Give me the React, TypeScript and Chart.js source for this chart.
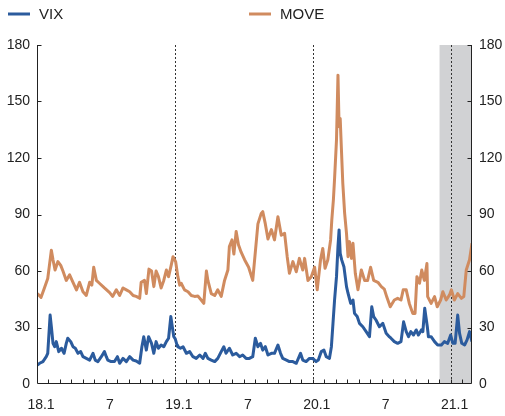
import React, { useEffect, useRef } from "react";
import { Chart, registerables } from "chart.js";

Chart.register(...registerables);

// ---- Data ----
const vixPoints: [string, number][] = [
  ["2018-01-02", 10], ["2018-01-08", 11], ["2018-01-17", 11.9], ["2018-01-26", 14.5], ["2018-01-30", 16.3],
  ["2018-02-05", 36.6], ["2018-02-08", 30.4], ["2018-02-12", 21.6], ["2018-02-16", 19.8], ["2018-02-20", 22.5],
  ["2018-02-26", 17.2], ["2018-03-05", 19], ["2018-03-12", 16.3], ["2018-03-18", 21.6], ["2018-03-22", 24.3],
  ["2018-03-30", 22.5], ["2018-04-05", 19.8], ["2018-04-11", 19], ["2018-04-18", 16.3], ["2018-04-25", 17.2],
  ["2018-05-01", 14.5], ["2018-05-10", 13.6], ["2018-05-19", 12.7], ["2018-05-28", 16.3], ["2018-06-03", 12.7],
  ["2018-06-10", 11.9], ["2018-06-19", 14.5], ["2018-06-27", 17.2], ["2018-07-02", 14.5], ["2018-07-06", 12.7],
  ["2018-07-15", 11.9], ["2018-07-24", 11.9], ["2018-08-01", 14.5], ["2018-08-07", 11], ["2018-08-16", 13.6],
  ["2018-08-25", 11.9], ["2018-09-03", 14.5], ["2018-09-12", 12.7], ["2018-09-20", 12.2], ["2018-09-29", 11],
  ["2018-10-05", 19.8], ["2018-10-10", 25.1], ["2018-10-17", 18], ["2018-10-23", 25.1], ["2018-10-31", 21.6],
  ["2018-11-06", 16.3], ["2018-11-12", 22.5], ["2018-11-18", 19], ["2018-11-25", 20.7], ["2018-12-02", 19.8],
  ["2018-12-09", 22.5], ["2018-12-15", 24.3], ["2018-12-21", 35.8], ["2018-12-25", 30.4], ["2018-12-29", 25.1],
  ["2019-01-02", 24], ["2019-01-07", 20.5], ["2019-01-09", 19.8], ["2019-01-16", 19], ["2019-01-23", 19.8],
  ["2019-02-01", 16.3], ["2019-02-09", 17.2], ["2019-02-17", 14.5], ["2019-02-25", 13.6], ["2019-03-06", 15.4],
  ["2019-03-15", 13.6], ["2019-03-21", 16.3], ["2019-03-28", 13.6], ["2019-04-06", 12.7], ["2019-04-15", 11.9],
  ["2019-04-23", 13.6], ["2019-05-02", 17.2], ["2019-05-09", 19.8], ["2019-05-15", 16.3], ["2019-05-24", 19],
  ["2019-06-02", 15.4], ["2019-06-11", 16.3], ["2019-06-20", 14.5], ["2019-06-28", 15.4], ["2019-07-07", 13.6],
  ["2019-07-16", 13.6], ["2019-07-25", 14.5], ["2019-08-01", 24.3], ["2019-08-08", 19.8], ["2019-08-15", 21.6],
  ["2019-08-21", 18], ["2019-08-28", 19.8], ["2019-09-04", 15.4], ["2019-09-13", 16.3], ["2019-09-21", 16.3],
  ["2019-09-30", 20.7], ["2019-10-07", 16.3], ["2019-10-13", 13.6], ["2019-10-23", 12.7], ["2019-10-31", 11.9],
  ["2019-11-09", 11.9], ["2019-11-18", 11], ["2019-11-29", 16.3], ["2019-12-05", 12.7], ["2019-12-14", 11.9],
  ["2019-12-23", 13.6], ["2020-01-01", 13.6], ["2020-01-10", 11.9], ["2020-01-16", 12.7], ["2020-01-24", 17.2],
  ["2020-01-31", 18], ["2020-02-06", 14.5], ["2020-02-14", 13.6], ["2020-02-19", 19.8], ["2020-02-23", 32.2],
  ["2020-02-27", 44.6], ["2020-03-03", 57], ["2020-03-07", 73], ["2020-03-10", 81.8], ["2020-03-13", 69.4],
  ["2020-03-17", 65.9], ["2020-03-23", 62.3], ["2020-03-30", 51.7], ["2020-04-03", 48.2], ["2020-04-10", 42.8],
  ["2020-04-16", 44.6], ["2020-04-20", 37.5], ["2020-04-27", 35.8], ["2020-05-03", 32.2], ["2020-05-12", 30.4],
  ["2020-05-21", 27.8], ["2020-05-30", 25.1], ["2020-06-05", 41], ["2020-06-10", 35.8], ["2020-06-16", 34],
  ["2020-06-25", 30.4], ["2020-07-04", 32.2], ["2020-07-13", 26.9], ["2020-07-22", 25], ["2020-07-26", 24.3],
  ["2020-08-04", 22.5], ["2020-08-13", 21.6], ["2020-08-22", 22.5], ["2020-08-29", 33], ["2020-09-05", 27.8],
  ["2020-09-11", 25.1], ["2020-09-17", 27.8], ["2020-09-24", 26], ["2020-10-01", 28.7], ["2020-10-07", 26],
  ["2020-10-15", 28.7], ["2020-10-19", 27.8], ["2020-10-24", 40.2], ["2020-10-31", 30.4], ["2020-11-03", 25.1],
  ["2020-11-10", 25.1], ["2020-11-19", 22.5], ["2020-11-27", 20.7], ["2020-12-07", 20.7], ["2020-12-15", 22.5],
  ["2020-12-24", 21.6], ["2021-01-01", 26], ["2021-01-07", 21.6], ["2021-01-13", 21.6], ["2021-01-20", 36.6],
  ["2021-01-25", 26.9], ["2021-01-31", 21.6], ["2021-02-07", 20.7], ["2021-02-13", 23.4], ["2021-02-19", 27.8],
  ["2021-02-25", 22.5],
];

const movePoints: [string, number][] = [
  ["2018-01-02", 48], ["2018-01-12", 46], ["2018-01-21", 51], ["2018-01-30", 56], ["2018-02-08", 71],
  ["2018-02-12", 66], ["2018-02-17", 60.5], ["2018-02-24", 65], ["2018-03-03", 63], ["2018-03-09", 60],
  ["2018-03-18", 55], ["2018-03-27", 58], ["2018-04-05", 54], ["2018-04-14", 50], ["2018-04-22", 54],
  ["2018-05-01", 49], ["2018-05-10", 47], ["2018-05-19", 54], ["2018-05-25", 52.5], ["2018-05-30", 62],
  ["2018-06-06", 55], ["2018-06-14", 53.5], ["2018-06-27", 51], ["2018-07-11", 48.5], ["2018-07-19", 46.5],
  ["2018-07-29", 50], ["2018-08-07", 47], ["2018-08-16", 51], ["2018-08-25", 50], ["2018-09-03", 49],
  ["2018-09-12", 47], ["2018-09-20", 46.5], ["2018-09-29", 45.5], ["2018-10-03", 54], ["2018-10-12", 55],
  ["2018-10-17", 48], ["2018-10-24", 61], ["2018-10-31", 60], ["2018-11-06", 51.7], ["2018-11-12", 60],
  ["2018-11-18", 57], ["2018-11-25", 51], ["2018-12-02", 55], ["2018-12-09", 60.5], ["2018-12-15", 57],
  ["2018-12-22", 63], ["2018-12-27", 67.6], ["2019-01-03", 65], ["2019-01-09", 57], ["2019-01-14", 52.5],
  ["2019-01-18", 53.5], ["2019-01-27", 50], ["2019-02-05", 49], ["2019-02-13", 47], ["2019-02-21", 46.5],
  ["2019-03-01", 46.7], ["2019-03-10", 44.6], ["2019-03-17", 42.8], ["2019-03-24", 60], ["2019-03-28", 55],
  ["2019-04-06", 48], ["2019-04-15", 47], ["2019-04-23", 50], ["2019-05-02", 46.5], ["2019-05-11", 55],
  ["2019-05-20", 60.5], ["2019-05-24", 73], ["2019-05-31", 76.5], ["2019-06-05", 69], ["2019-06-11", 81],
  ["2019-06-17", 74], ["2019-06-24", 70], ["2019-07-03", 66], ["2019-07-14", 62], ["2019-07-25", 55],
  ["2019-08-01", 70], ["2019-08-08", 85], ["2019-08-17", 90.6], ["2019-08-21", 91.5], ["2019-08-28", 85],
  ["2019-09-04", 77], ["2019-09-13", 82], ["2019-09-21", 76.5], ["2019-09-30", 88.8], ["2019-10-09", 79],
  ["2019-10-18", 80], ["2019-10-25", 67.6], ["2019-10-31", 58.8], ["2019-11-09", 65], ["2019-11-18", 59.6],
  ["2019-11-26", 66.7], ["2019-12-05", 60.5], ["2019-12-10", 66.7], ["2019-12-19", 55], ["2019-12-28", 57],
  ["2020-01-06", 62], ["2020-01-13", 50], ["2020-01-22", 66], ["2020-01-28", 72], ["2020-02-03", 61.4],
  ["2020-02-10", 66], ["2020-02-17", 76.5], ["2020-02-20", 87], ["2020-02-24", 97.7], ["2020-02-27", 109],
  ["2020-03-03", 129.6], ["2020-03-07", 164], ["2020-03-10", 136.6], ["2020-03-13", 141], ["2020-03-16", 126],
  ["2020-03-20", 106.6], ["2020-03-25", 90.6], ["2020-03-30", 80], ["2020-04-03", 67.6], ["2020-04-07", 75.6],
  ["2020-04-12", 66.7], ["2020-04-16", 74.7], ["2020-04-22", 58.8], ["2020-04-29", 50], ["2020-05-08", 60.5],
  ["2020-05-17", 55], ["2020-05-25", 55], ["2020-06-02", 62], ["2020-06-10", 55], ["2020-06-21", 54],
  ["2020-06-30", 51.7], ["2020-07-08", 50.4], ["2020-07-15", 46], ["2020-07-24", 41], ["2020-08-04", 44.6],
  ["2020-08-13", 45.5], ["2020-08-22", 44.6], ["2020-08-28", 50], ["2020-09-05", 50], ["2020-09-13", 42.8],
  ["2020-09-22", 37.5], ["2020-09-28", 37.5], ["2020-10-03", 57], ["2020-10-10", 53.5], ["2020-10-16", 60.5],
  ["2020-10-23", 55], ["2020-10-30", 64], ["2020-11-01", 46.4], ["2020-11-10", 42.8], ["2020-11-19", 46.4],
  ["2020-11-26", 41], ["2020-12-05", 44.6], ["2020-12-11", 49], ["2020-12-20", 44.6], ["2020-12-29", 47.3],
  ["2021-01-03", 50], ["2021-01-11", 44.6], ["2021-01-20", 48], ["2021-01-30", 45.5], ["2021-02-05", 46.4],
  ["2021-02-11", 60.5], ["2021-02-19", 66], ["2021-02-25", 74.7],
];

const xTickDates = ["2018-01-01", "2018-07-01", "2019-01-01", "2019-07-01", "2020-01-01", "2020-07-01", "2021-01-01"];
const xTickLabels = ["18.1", "7", "19.1", "7", "20.1", "7", "21.1"];
const yearMarkerDates = ["2019-01-01", "2020-01-01", "2021-01-01"];
const shadeStartDate = "2020-12-02";
const axisStartDate = "2018-01-01";
const axisEndDate = "2021-02-25";
const seriesNames = ["VIX", "MOVE"];
const seriesColors = ["#2b5b9d", "#d08b5f"];

// months since Jan 2018 (fractional)
function monthIndex(s: string): number {
  const [y, m, d] = s.split("-").map(Number);
  const dim = new Date(y, m, 0).getDate();
  return (y - 2018) * 12 + (m - 1) + (d - 1) / dim;
}

const FONT = "'Liberation Sans', Arial, sans-serif";
const AXIS_COLOR = "#222";

const decorPlugin = {
  id: "decor",
  beforeDatasetsDraw(chart: any) {
    const { ctx, chartArea, scales } = chart;
    const x = scales.x;
    ctx.save();
    const xs = x.getPixelForValue(monthIndex(shadeStartDate));
    ctx.fillStyle = "#d1d2d4";
    ctx.fillRect(xs, chartArea.top, chartArea.right - xs, chartArea.bottom - chartArea.top);
    ctx.strokeStyle = "#333";
    ctx.lineWidth = 1;
    ctx.setLineDash([2, 2]);
    for (const d of yearMarkerDates) {
      const px = Math.round(x.getPixelForValue(monthIndex(d))) + 0.5;
      ctx.beginPath();
      ctx.moveTo(px, chartArea.top);
      ctx.lineTo(px, chartArea.bottom);
      ctx.stroke();
    }
    ctx.restore();
  },
  afterDraw(chart: any) {
    const { ctx, chartArea, scales } = chart;
    const x = scales.x;
    const y = scales.y;
    ctx.save();
    ctx.strokeStyle = AXIS_COLOR;
    ctx.lineWidth = 1;
    ctx.setLineDash([]);
    const l = Math.round(chartArea.left) + 0.5;
    const r = Math.round(chartArea.right) - 0.5;
    const b = Math.round(chartArea.bottom) - 0.5;
    ctx.beginPath();
    ctx.moveTo(l, chartArea.top);
    ctx.lineTo(l, b);
    ctx.lineTo(r, b);
    ctx.lineTo(r, chartArea.top);
    ctx.stroke();
    const last = Math.floor(monthIndex(axisEndDate));
    ctx.beginPath();
    for (let m = 1; m <= last; m++) {
      const px = Math.round(x.getPixelForValue(m)) + 0.5;
      ctx.moveTo(px, b);
      ctx.lineTo(px, b - 4);
    }
    for (let v = 30; v <= 180; v += 30) {
      const py = Math.round(y.getPixelForValue(v)) + 0.5;
      ctx.moveTo(l, py);
      ctx.lineTo(l + 4, py);
      ctx.moveTo(r, py);
      ctx.lineTo(r - 4, py);
    }
    ctx.stroke();
    const legendX = [8, 249];
    ctx.font = `15px ${FONT}`;
    ctx.textBaseline = "middle";
    for (let i = 0; i < seriesNames.length; i++) {
      ctx.strokeStyle = seriesColors[i];
      ctx.lineWidth = 3;
      ctx.beginPath();
      ctx.moveTo(legendX[i], 14);
      ctx.lineTo(legendX[i] + 22, 14);
      ctx.stroke();
      ctx.fillStyle = "#222";
      ctx.fillText(seriesNames[i], legendX[i] + 31, 15);
    }
    ctx.restore();
  },
};

export default function App() {
  const ref = useRef<HTMLCanvasElement | null>(null);
  useEffect(() => {
    if (!ref.current) return;
    const tickVals = xTickDates.map(monthIndex);
    const chart = new Chart(ref.current, {
      type: "line",
      data: {
        datasets: [
          {
            label: seriesNames[0],
            data: vixPoints.map(([d, v]) => ({ x: monthIndex(d), y: v })),
            borderColor: seriesColors[0],
            borderWidth: 3,
            borderJoinStyle: "round",
            pointRadius: 0,
            tension: 0,
            yAxisID: "y",
          },
          {
            label: seriesNames[1],
            data: movePoints.map(([d, v]) => ({ x: monthIndex(d), y: v })),
            borderColor: seriesColors[1],
            borderWidth: 3,
            borderJoinStyle: "round",
            pointRadius: 0,
            tension: 0,
            yAxisID: "y",
          },
        ],
      },
      options: {
        animation: false,
        responsive: true,
        maintainAspectRatio: false,
        layout: { padding: { top: 45, left: 0, right: 0, bottom: 0 } },
        plugins: { legend: { display: false }, tooltip: { enabled: false } },
        scales: {
          x: {
            type: "linear",
            min: monthIndex(axisStartDate),
            max: monthIndex(axisEndDate),
            grid: { display: false, drawTicks: false },
            border: { display: false },
            afterBuildTicks: (s: any) => {
              s.ticks = tickVals.map((v) => ({ value: v }));
            },
            afterFit: (s: any) => {
              s.height = 32;
            },
            ticks: {
              autoSkip: false,
              maxRotation: 0,
              labelOffset: 4,
              padding: 13,
              color: "#222",
              font: { family: FONT, size: 14 },
              callback: (_v: any, i: number) => xTickLabels[i],
            },
          },
          y: {
            position: "left",
            min: 0,
            max: 180,
            grid: { display: false, drawTicks: false },
            border: { display: false },
            afterFit: (s: any) => {
              s.width = 37;
            },
            ticks: { stepSize: 30, padding: 7, color: "#222", font: { family: FONT, size: 14 } },
          },
          y2: {
            position: "right",
            min: 0,
            max: 180,
            grid: { display: false, drawTicks: false },
            border: { display: false },
            afterFit: (s: any) => {
              s.width = 33;
            },
            ticks: { stepSize: 30, padding: 7, color: "#222", font: { family: FONT, size: 14 } },
          },
        },
      },
      plugins: [decorPlugin],
    } as any);
    return () => chart.destroy();
  }, []);

  return (
    <div style={{ position: "fixed", left: 0, top: 0, width: 505, height: 416, background: "#fff" }}>
      <canvas ref={ref} />
    </div>
  );
}
